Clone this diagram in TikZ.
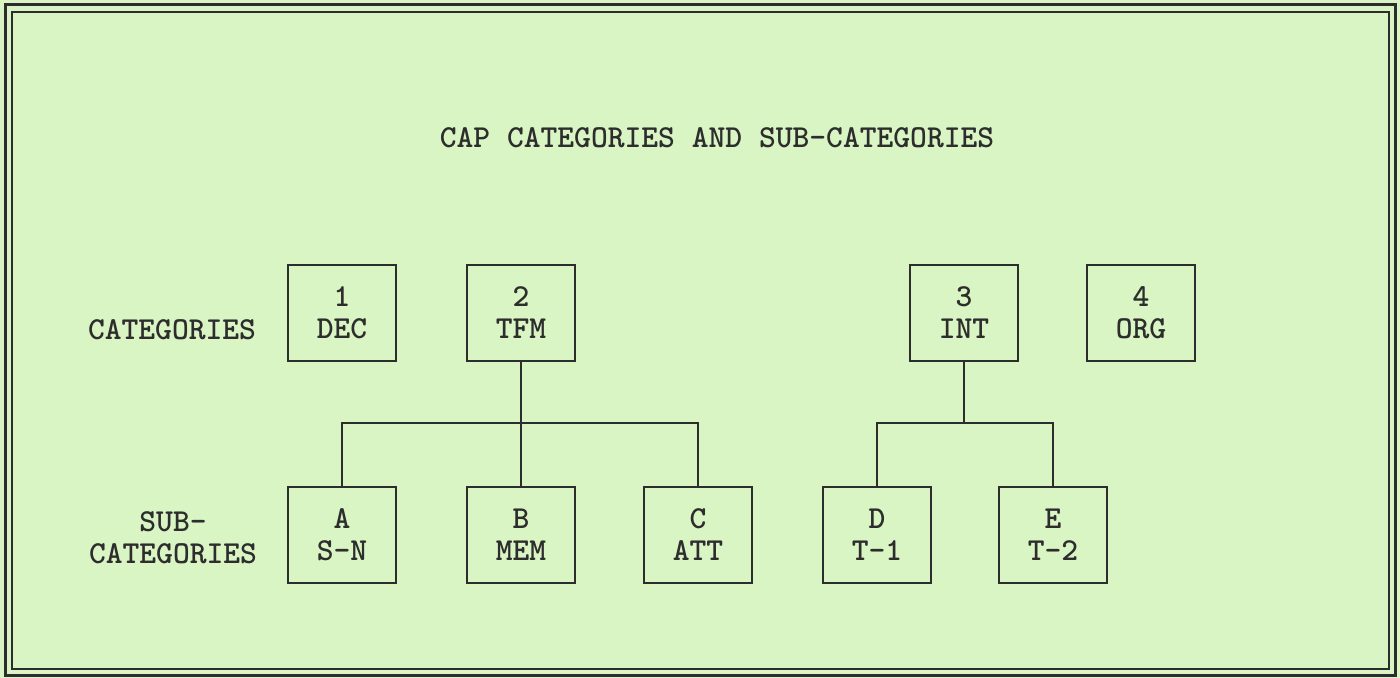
\documentclass[tikz,border=0pt]{standalone}
\usepackage{fontspec}
\usetikzlibrary{positioning}
\definecolor{paper}{RGB}{218,245,196}
\definecolor{ink}{RGB}{45,45,45}
\begin{document}
\begin{tikzpicture}[x=0.5pt,y=-0.5pt,
  every node/.style={font=\ttfamily\bfseries\fontsize{16}{16}\selectfont,text=ink},
  catbox/.style={draw=ink,line width=1pt,minimum width=54pt,minimum height=48pt,align=center,inner sep=0pt},
  link/.style={draw=ink,line width=1pt}]
\fill[paper] (0,0) rectangle (1400,678);
\useasboundingbox (0,0) rectangle (1400,678);
\draw[ink,line width=1.5pt] (5,5) rectangle (1395,675);
\draw[ink,line width=1pt] (12,12) rectangle (1389,669);
\node (title) at (717,138) {CAP CATEGORIES AND SUB-CATEGORIES};
\node (catlabel) at (172,330) {CATEGORIES};
\node[align=center] (sublabel) at (173,538) {SUB-\\CATEGORIES};
% categories
\node[catbox] (dec) at (342,313) {1\\DEC};
\node[catbox] (tfm) at (521,313) {2\\TFM};
\node[catbox] (int) at (964,313) {3\\INT};
\node[catbox] (org) at (1141,313) {4\\ORG};
% sub-categories
\node[catbox] (sn) at (342,535) {A\\S-N};
\node[catbox] (mem) at (521,535) {B\\MEM};
\node[catbox] (att) at (698,535) {C\\ATT};
\node[catbox] (tone) at (877,535) {D\\T-1};
\node[catbox] (ttwo) at (1053,535) {E\\T-2};
% links
\coordinate (tfmfork) at (521,423);
\coordinate (intfork) at (964,423);
\draw[link] (tfm.south) -- (mem.north);
\draw[link] (sn.north) |- (tfmfork) -| (att.north);
\draw[link] (int.south) -- (intfork);
\draw[link] (tone.north) |- (intfork) -| (ttwo.north);
\end{tikzpicture}
\end{document}
